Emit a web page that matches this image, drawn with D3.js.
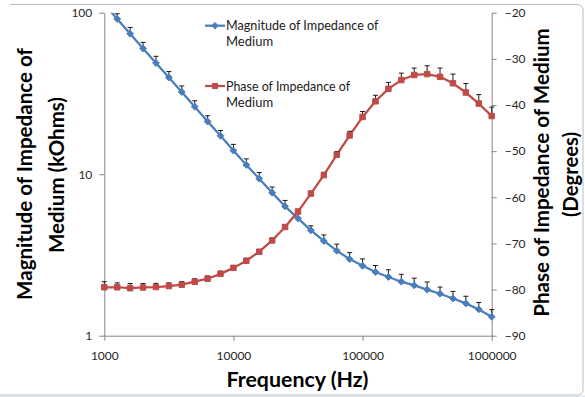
<!DOCTYPE html>
<html><head><meta charset="utf-8">
<script src="https://cdn.jsdelivr.net/npm/d3@7"></script>
<style>
html,body{margin:0;padding:0;background:#fff;}
svg{display:block;font-family:Lato,"Open Sans",sans-serif;}
</style></head>
<body>
<svg id="chart" width="585" height="397"></svg>
<script>
// ---- data ----
const frequencies = [1000,1259,1585,1995,2512,3162,3981,5012,6310,7943,
  10000,12589,15849,19953,25119,31623,39811,50119,63096,79433,
  100000,125893,158489,199526,251189,316228,398107,501187,630957,794328,1000000];
const magnitude = [113,91.4,74.1,60.1,48.8,39.7,32.3,26.2,21.2,17.3,
  14.0,11.4,9.38,7.68,6.32,5.33,4.49,3.86,3.36,2.98,
  2.71,2.48,2.31,2.16,2.05,1.93,1.82,1.70,1.585,1.455,1.31];
const magnitudeErr = [8,7.1,7.0,5.4,4.9,3.5,2.9,2.3,1.8,1.35,
  1.3,1.05,0.86,0.65,0.56,0.48,0.3,0.35,0.33,0.29,
  0.28,0.24,0.25,0.24,0.22,0.22,0.18,0.18,0.17,0.15,0.14];
const phase = [-79.5,-79.5,-79.7,-79.55,-79.45,-79.25,-78.95,-78.3,-77.65,-76.6,
  -75.3,-73.75,-71.8,-69.35,-66.45,-63.1,-59.2,-55.2,-50.8,-46.6,
  -42.6,-39.2,-36.5,-34.6,-33.5,-33.3,-33.9,-35.3,-37.3,-39.7,-42.4];
const phaseErr = [1.2,0.95,1.0,0.87,0.8,0.7,0.7,0.65,0.6,0.6,
  0.5,0.5,0.5,0.5,0.5,0.5,0.5,0.6,0.7,0.9,
  1.2,1.3,1.4,1.5,1.5,1.8,1.9,2.0,1.95,1.95,1.95];
const freqTicks = [1000,10000,100000,1000000];
const magTicks = [1,10,100];
const phaseTicks = [-90,-80,-70,-60,-50,-40,-30,-20];
const seriesNames = ["Magnitude of Impedance of|Medium","Phase of Impedance of|Medium"];
const xTitle = "Frequency (Hz)";
const yTitle = ["Magnitude of Impedance of","Medium (kOhms)"];
const y2Title = ["Phase of Impedance of Medium","(Degrees)"];

// ---- layout ----
const L = 104.3, R = 491.7, T = 12.7, B = 335.7;
const blue = "#4a7ebb", red = "#be4b48", axisCol = "#868686";

const svg = d3.select("#chart");

// frame
svg.append("rect").attr("x",0).attr("y",395.5).attr("width",585).attr("height",2).attr("fill","#e4e9ee");
svg.append("path")
  .attr("d","M10,4.5 L577,4.5 Q583,4.5 583,10.5 L583,389 Q583,395 577,395 L0,395")
  .attr("fill","none").attr("stroke","#b9bec4").attr("stroke-width",1);

const x = d3.scaleLog().domain([1000,1e6]).range([L,R]);
const yM = d3.scaleLog().domain([1,100]).range([B,T]);
const yP = d3.scaleLinear().domain([-90,-20]).range([B,T]);

svg.append("clipPath").attr("id","plotclip").append("rect")
  .attr("x",L-6).attr("y",T).attr("width",R-L+12).attr("height",B-T+1);

function styleAxis(g){
  g.select(".domain").attr("stroke",axisCol).attr("stroke-width",1);
  g.selectAll(".tick line").attr("stroke",axisCol);
  g.selectAll(".tick text").attr("fill","#262626").style("font-size","12px").style("font-family","Lato");
}

svg.append("g").attr("transform",`translate(${L},0)`)
  .call(d3.axisLeft(yM).tickValues(magTicks).tickFormat(d3.format("d")).tickSize(5).tickSizeOuter(0).tickPadding(7))
  .call(styleAxis);
svg.append("g").attr("transform",`translate(${R},0)`)
  .call(d3.axisRight(yP).tickValues(phaseTicks).tickFormat(d3.format("d")).tickSize(5).tickSizeOuter(0).tickPadding(8))
  .call(styleAxis);
const xg = svg.append("g").attr("transform",`translate(0,${B})`)
  .call(d3.axisBottom(x).tickValues(freqTicks).tickFormat(d3.format("d")).tickSize(5).tickSizeOuter(0).tickPadding(11))
  .call(styleAxis);

// series
const plot = svg.append("g").attr("clip-path","url(#plotclip)");
function drawSeries(vals, errs, yScale, color, shape){
  const g = plot.append("g");
  const pts = frequencies.map((f,i)=>({f, v:vals[i], e:errs[i]}));
  g.append("path").datum(pts)
    .attr("d", d3.line().x(d=>x(d.f)).y(d=>yScale(d.v)))
    .attr("fill","none").attr("stroke",color).attr("stroke-width",2.25).attr("stroke-linejoin","round");
  // error bars (plus direction)
  const eb = g.append("g").attr("stroke","#1a1a1a").attr("stroke-width",1);
  pts.forEach(d=>{
    const x0 = x(d.f), y0 = yScale(d.v), y1 = yScale(d.v + d.e);
    eb.append("line").attr("x1",x0).attr("x2",x0).attr("y1",y0).attr("y2",y1);
    eb.append("line").attr("x1",x0-2.5).attr("x2",x0+2.5).attr("y1",y1).attr("y2",y1);
  });
  const sym = shape==="diamond" ? d3.symbol().type(d3.symbolDiamond2).size(30) : d3.symbol().type(d3.symbolSquare2).size(38);
  g.selectAll(".m").data(pts).join("path")
    .attr("d", sym)
    .attr("transform", d=>`translate(${x(d.f)},${yScale(d.v)})`)
    .attr("fill",color).attr("stroke",color).attr("stroke-width",1);
}
drawSeries(magnitude, magnitudeErr, yM, blue, "diamond");
drawSeries(phase, phaseErr, yP, red, "square");

// legend
const legendY = [25.7, 86];
const colors = [blue, red];
const shapes = [d3.symbolDiamond2, d3.symbolSquare2];
const legendLen = [152.6, 124];
seriesNames.forEach((name,i)=>{
  const g = svg.append("g");
  g.append("line").attr("x1",205).attr("x2",225).attr("y1",legendY[i]).attr("y2",legendY[i])
    .attr("stroke",colors[i]).attr("stroke-width",2.25);
  g.append("path").attr("d", d3.symbol().type(shapes[i]).size(i===0?26:34)())
    .attr("transform",`translate(215,${legendY[i]})`).attr("fill",colors[i]).attr("stroke",colors[i]);
  const lines = name.split("|");
  lines.forEach((t,j)=>{
    const te = g.append("text").attr("x",226).attr("y",legendY[i]+4.5+16*j)
      .attr("fill","#1a1a1a").style("font-size","13px").text(t);
    if(j===0){ fit(te, legendLen[i]); }
  });
});

function fit(sel, target){
  const n = sel.node();
  const fs = parseFloat(sel.style("font-size"));
  const w = n.getComputedTextLength();
  if (w>0) sel.style("font-size", (fs*target/w).toFixed(2)+"px");
}

// titles
function title(txt, xPos, yPos, rot, len){
  const t = svg.append("text").attr("text-anchor","middle")
    .attr("transform",`translate(${xPos},${yPos}) rotate(${rot})`)
    .style("font-weight","bold").style("font-size","19px").attr("fill","#000").text(txt);
  fit(t, len);
  return t;
}
title(xTitle, 297.5, 387, 0, 142);
title(yTitle[0], 32, 174, -90, 252);
title(yTitle[1], 63.5, 175, -90, 156);
title(y2Title[0], 548.5, 172.5, -90, 289);
title(y2Title[1], 578, 174.5, -90, 85);
</script>
</body></html>
